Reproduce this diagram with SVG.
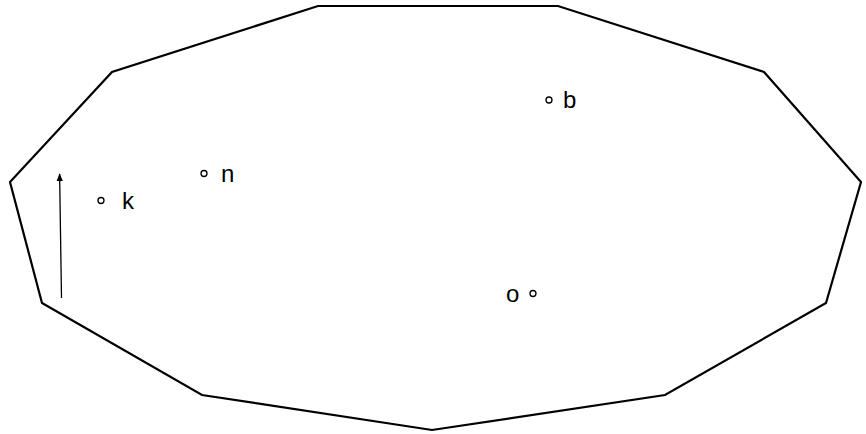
<svg xmlns="http://www.w3.org/2000/svg" width="866" height="434" viewBox="0 0 866 434">
<defs>
<style>
.outline{fill:none;stroke:#000;stroke-width:2.2;stroke-linejoin:miter}
.dot{fill:#fff;stroke:#000;stroke-width:1.3}
.lbl{font-family:"Liberation Sans",Arial,sans-serif;font-size:24px;fill:#000}
.conn{stroke:#000;stroke-width:1.3;fill:none}
</style>
<marker id="ah" viewBox="0 0 10 10" refX="9" refY="5" markerWidth="8" markerHeight="8" markerUnits="userSpaceOnUse" orient="auto">
<path d="M0,1 L10,5 L0,9 Z" fill="#000"/>
</marker>
</defs>
<rect width="866" height="434" fill="#fff"/>
<g id="boundary">
<polygon class="outline" points="318,6 558,6 764,72 861,182 826,303 665,395 432,430 202,395 42,303 10,182 112,72"/>
</g>
<g id="connectors">
<line class="conn" x1="61.5" y1="298" x2="59.6" y2="174" marker-end="url(#ah)"/>
</g>
<g id="node-k">
<circle class="dot" cx="101" cy="200.5" r="3"/>
<text class="lbl" x="122" y="209">k</text>
</g>
<g id="node-n">
<circle class="dot" cx="204" cy="173.5" r="3"/>
<text class="lbl" x="221" y="182">n</text>
</g>
<g id="node-b">
<circle class="dot" cx="549" cy="100" r="3"/>
<text class="lbl" x="563" y="108">b</text>
</g>
<g id="node-o">
<circle class="dot" cx="533" cy="293.5" r="3"/>
<text class="lbl" x="506" y="302">o</text>
</g>
</svg>
